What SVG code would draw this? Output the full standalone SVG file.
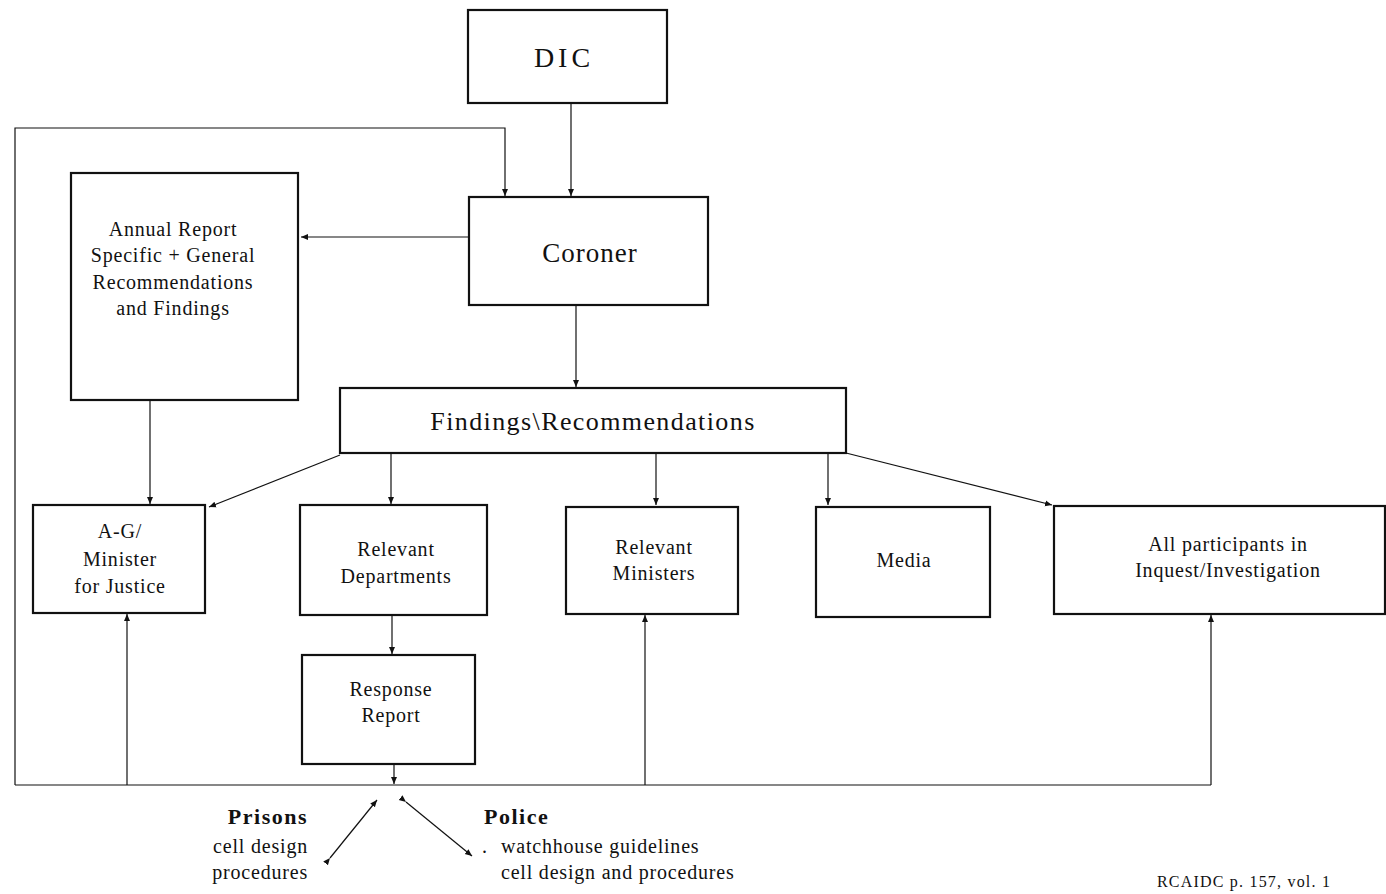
<svg xmlns="http://www.w3.org/2000/svg" width="1386" height="894" viewBox="0 0 1386 894">
<style>
.box{fill:#fff;stroke:#111;stroke-width:2.2}
.ln{fill:none;stroke:#111;stroke-width:1.2}
text{font-family:"Liberation Serif","Times New Roman",serif;fill:#111;text-anchor:middle}
.t{font-size:20px;letter-spacing:0.8px}
.b{font-weight:bold;font-size:22px;letter-spacing:1.5px}
</style>
<defs>
<marker id="ah" markerWidth="8" markerHeight="8" refX="7" refY="4" orient="auto" markerUnits="userSpaceOnUse">
<path d="M0,1 L7,4 L0,7 z" fill="#111"/>
</marker>
</defs>
<g id="connectors">
<line class="ln" x1="571" y1="103" x2="571" y2="196" marker-end="url(#ah)"/>
<polyline class="ln" points="15,785 15,128 505,128 505,196" marker-end="url(#ah)"/>
<line class="ln" x1="469" y1="237" x2="301" y2="237" marker-end="url(#ah)"/>
<line class="ln" x1="150" y1="400" x2="150" y2="504" marker-end="url(#ah)"/>
<line class="ln" x1="576" y1="305" x2="576" y2="387" marker-end="url(#ah)"/>
<line class="ln" x1="340" y1="455" x2="209" y2="507" marker-end="url(#ah)"/>
<line class="ln" x1="391" y1="453" x2="391" y2="504" marker-end="url(#ah)"/>
<line class="ln" x1="656" y1="453" x2="656" y2="505" marker-end="url(#ah)"/>
<line class="ln" x1="828" y1="453" x2="828" y2="505" marker-end="url(#ah)"/>
<line class="ln" x1="846" y1="453" x2="1052" y2="505" marker-end="url(#ah)"/>
<line class="ln" x1="392" y1="615" x2="392" y2="654" marker-end="url(#ah)"/>
<line class="ln" x1="394" y1="764" x2="394" y2="784" marker-end="url(#ah)"/>
<line class="ln" x1="15" y1="785" x2="1211" y2="785"/>
<line class="ln" x1="127" y1="785" x2="127" y2="614" marker-end="url(#ah)"/>
<line class="ln" x1="645" y1="785" x2="645" y2="615" marker-end="url(#ah)"/>
<line class="ln" x1="1211" y1="785" x2="1211" y2="615" marker-end="url(#ah)"/>
<line class="ln" x1="330" y1="858" x2="377" y2="800" marker-start="url(#ah)" marker-end="url(#ah)"/>
<line class="ln" x1="406" y1="802" x2="472" y2="856" marker-start="url(#ah)" marker-end="url(#ah)"/>
</g>
<g id="dic"><rect class="box" x="468" y="10" width="199" height="93"/><text x="564" y="67" style="font-size:28px;letter-spacing:4px">DIC</text></g>
<g id="coroner"><rect class="box" x="469" y="197" width="239" height="108"/><text x="590" y="262" style="font-size:27px;letter-spacing:1px">Coroner</text></g>
<g id="annual"><rect class="box" x="71" y="173" width="227" height="227"/>
<text class="t" x="173" y="236">Annual Report</text>
<text class="t" x="173" y="262">Specific + General</text>
<text class="t" x="173" y="289">Recommendations</text>
<text class="t" x="173" y="315">and Findings</text></g>
<g id="findings"><rect class="box" x="340" y="388" width="506" height="65"/><text x="593" y="430" style="font-size:26px;letter-spacing:1.4px">Findings\Recommendations</text></g>
<g id="ag"><rect class="box" x="33" y="505" width="172" height="108"/>
<text class="t" x="120" y="538">A-G/</text>
<text class="t" x="120" y="566">Minister</text>
<text class="t" x="120" y="593">for Justice</text></g>
<g id="depts"><rect class="box" x="300" y="505" width="187" height="110"/>
<text class="t" x="396" y="556">Relevant</text>
<text class="t" x="396" y="583">Departments</text></g>
<g id="ministers"><rect class="box" x="566" y="507" width="172" height="107"/>
<text class="t" x="654" y="554">Relevant</text>
<text class="t" x="654" y="580">Ministers</text></g>
<g id="media"><rect class="box" x="816" y="507" width="174" height="110"/>
<text class="t" x="904" y="567">Media</text></g>
<g id="participants"><rect class="box" x="1054" y="506" width="331" height="108"/>
<text class="t" x="1228" y="551">All participants in</text>
<text class="t" x="1228" y="577">Inquest/Investigation</text></g>
<g id="response"><rect class="box" x="302" y="655" width="173" height="109"/>
<text class="t" x="391" y="696">Response</text>
<text class="t" x="391" y="722">Report</text></g>
<g id="prisons">
<text class="b" x="308" y="824" style="text-anchor:end">Prisons</text>
<text class="t" x="308" y="853" style="text-anchor:end">cell design</text>
<text class="t" x="308" y="879" style="text-anchor:end">procedures</text></g>
<g id="police">
<text class="b" x="484" y="824" style="text-anchor:start">Police</text>
<text class="t" x="482" y="853" style="text-anchor:start">.</text>
<text class="t" x="501" y="853" style="text-anchor:start">watchhouse guidelines</text>
<text class="t" x="501" y="879" style="text-anchor:start">cell design and procedures</text></g>
<text x="1157" y="887" style="font-size:16px;letter-spacing:1.2px;text-anchor:start">RCAIDC p. 157, vol. 1</text>
</svg>
